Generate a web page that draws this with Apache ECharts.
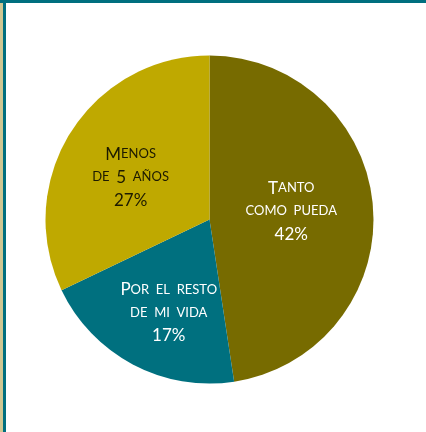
<!DOCTYPE html>
<html><head><meta charset="utf-8">
<script src="https://cdn.jsdelivr.net/npm/echarts@6/dist/echarts.min.js"></script>
<style>html,body{margin:0;padding:0;background:#fff}#c{width:426px;height:432px}</style>
</head><body><div id="c"></div>
<script>
const categories = ['Tanto como pueda', 'Por el resto de mi vida', 'Menos de 5 años'];
// slice shares as drawn in the picture (angles measured), and the printed percentages
const sliceShares = [47.6, 20.3, 32.1];
const percentLabels = ['42%', '17%', '27%'];
const colors = ['#776b00', '#00707f', '#bfa900'];

const chart = echarts.init(document.getElementById('c'));
const F = 'Lato, "Open Sans", sans-serif';
const rich = (col) => ({
  b: {fontSize: 17, color: col, fontFamily: F, lineHeight: 23},
  s: {fontSize: 13, color: col, fontFamily: F, lineHeight: 23},
  n: {fontSize: 17, color: col, fontFamily: F, lineHeight: 23}
});
const labels = [
  '{b|T}{s|ANTO}\n{s|COMO  PUEDA}\n{n|' + percentLabels[0] + '}',
  '{b|P}{s|OR  EL  RESTO}\n{s|DE  MI  VIDA}\n{n|' + percentLabels[1] + '}',
  '{b|M}{s|ENOS}\n{s|DE}  {n|5}  {s|AÑOS}\n{n|' + percentLabels[2] + '}'
];
const labelColors = ['#ffffff', '#ffffff', '#1c1a00'];
const offsets = [[-3, -2], [-1, 18], [-7, 3]];
chart.setOption({
  animation: false,
  graphic: [
    {type: 'rect', shape: {x: 0, y: 0, width: 3, height: 432}, style: {fill: '#cfc793'}},
    {type: 'rect', shape: {x: 3, y: 0, width: 3, height: 432}, style: {fill: '#006f7f'}},
    {type: 'rect', shape: {x: 0, y: 0, width: 426, height: 3}, style: {fill: '#006f7f'}}
  ],
  series: [{
    type: 'pie',
    center: [209.5, 219.5],
    radius: [0, 164],
    startAngle: 90,
    clockwise: true,
    label: {show: true, position: 'inside', align: 'center'},
    labelLine: {show: false},
    data: categories.map((c, i) => ({
      name: c, value: sliceShares[i],
      itemStyle: {color: colors[i]},
      label: {formatter: labels[i], rich: rich(labelColors[i]), offset: offsets[i]}
    }))
  }]
});
</script></body></html>
